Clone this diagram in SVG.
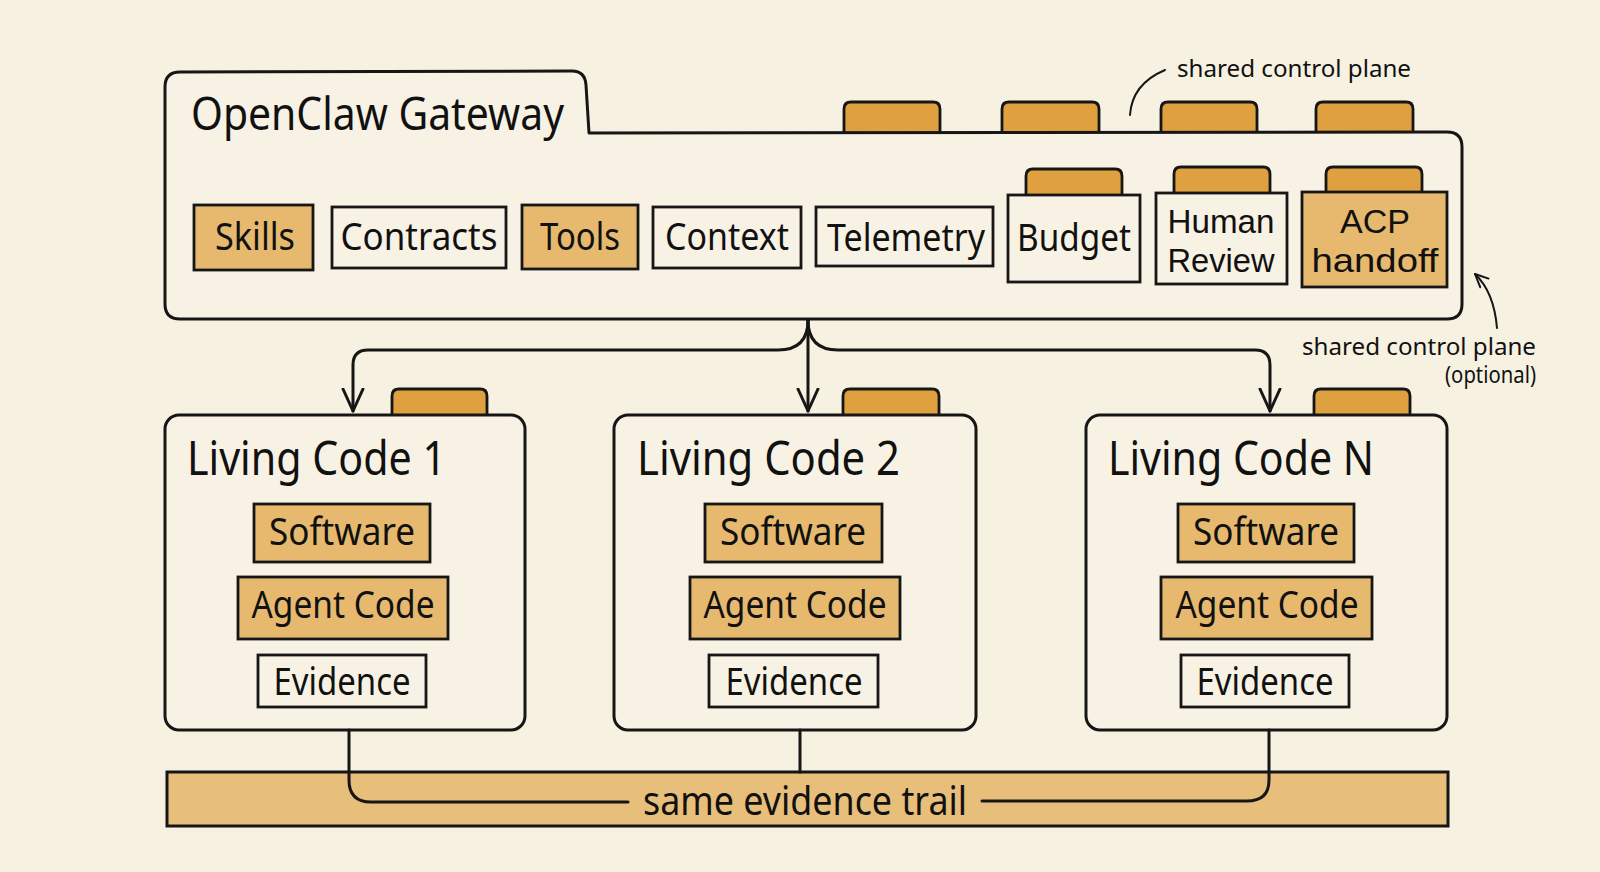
<svg xmlns="http://www.w3.org/2000/svg" width="1600" height="872" viewBox="0 0 1600 872">
<style>
.bg{fill:#f7f1e1}
.box{fill:#f8f2e4;stroke:#161616;stroke-width:3;stroke-linejoin:round}
.ibox{fill:#f8f2e4;stroke:#161616;stroke-width:2.8}
.obox{fill:#e6b96e;stroke:#161616;stroke-width:2.8}
.tab{fill:#dfa13f;stroke:#161616;stroke-width:2.8;stroke-linejoin:round}
.bar{fill:#e8bf7a;stroke:#161616;stroke-width:3}
.ln{fill:none;stroke:#161616;stroke-width:3;stroke-linecap:round;stroke-linejoin:round}
.thin{fill:none;stroke:#161616;stroke-width:2;stroke-linecap:round}
text{font-family:"Noto Sans","Open Sans",sans-serif;fill:#111}
.title{font-size:46px}
.lct{font-size:47px}
.it{font-size:38px;text-anchor:middle}
.it2{font-family:"Liberation Sans",Arial,sans-serif;font-size:34px;text-anchor:middle}
.note{font-size:23px}
</style>
<defs>
<marker id="arr" markerUnits="userSpaceOnUse" markerWidth="26" markerHeight="26" viewBox="0 0 26 26" refX="23" refY="13" orient="auto">
<path d="M1,3 L23,13 L1,23" fill="none" stroke="#161616" stroke-width="3" stroke-linecap="round" stroke-linejoin="round"/>
</marker>
<marker id="sarr" markerUnits="userSpaceOnUse" markerWidth="16" markerHeight="16" viewBox="0 0 16 16" refX="14" refY="8" orient="auto">
<path d="M1,2 L14,8 L1,14" fill="none" stroke="#161616" stroke-width="2" stroke-linecap="round" stroke-linejoin="round"/>
</marker>
</defs>
<rect class="bg" x="0" y="0" width="1600" height="872"/>

<g id="gateway">
<path class="tab" d="M844,133 L844,109 Q844,102 851,102 L933,102 Q940,102 940,109 L940,133"/>
<path class="tab" d="M1002,133 L1002,109 Q1002,102 1009,102 L1092,102 Q1099,102 1099,109 L1099,133"/>
<path class="tab" d="M1161,133 L1161,109 Q1161,102 1168,102 L1250,102 Q1257,102 1257,109 L1257,133"/>
<path class="tab" d="M1316,133 L1316,109 Q1316,102 1323,102 L1406,102 Q1413,102 1413,109 L1413,133"/>
<path class="box" d="M165,87 Q165,72 180,72 L572,71 Q585,71 586,85 L589,133 L1447,132 Q1462,132 1462,147 L1462,304 Q1462,319 1447,319 L180,319 Q165,319 165,304 Z"/>
<text class="title" x="191" y="130" textLength="373" lengthAdjust="spacingAndGlyphs">OpenClaw Gateway</text>
</g>

<g id="skills">
<rect class="obox" x="194" y="205" width="119" height="65"/>
<text class="it" x="255" y="250" textLength="80" lengthAdjust="spacingAndGlyphs">Skills</text>
</g>
<g id="contracts">
<rect class="ibox" x="332" y="207" width="174" height="61"/>
<text class="it" x="419" y="250" textLength="157" lengthAdjust="spacingAndGlyphs">Contracts</text>
</g>
<g id="tools">
<rect class="obox" x="522" y="205" width="116" height="64"/>
<text class="it" x="580" y="250" textLength="80" lengthAdjust="spacingAndGlyphs">Tools</text>
</g>
<g id="context">
<rect class="ibox" x="653" y="207" width="148" height="61"/>
<text class="it" x="727" y="250" textLength="124" lengthAdjust="spacingAndGlyphs">Context</text>
</g>
<g id="telemetry">
<rect class="ibox" x="816" y="207" width="177" height="59"/>
<text class="it" x="906" y="251" textLength="158" lengthAdjust="spacingAndGlyphs">Telemetry</text>
</g>
<g id="budget">
<path class="tab" d="M1026,196 L1026,176 Q1026,169 1033,169 L1115,169 Q1122,169 1122,176 L1122,196"/>
<rect class="ibox" x="1008" y="195" width="132" height="87"/>
<text class="it" x="1074" y="251" textLength="114" lengthAdjust="spacingAndGlyphs">Budget</text>
</g>
<g id="human-review">
<path class="tab" d="M1174,194 L1174,174 Q1174,167 1181,167 L1263,167 Q1270,167 1270,174 L1270,194"/>
<rect class="ibox" x="1156" y="193" width="131" height="91"/>
<text class="it2"><tspan x="1221" y="233" textLength="107" lengthAdjust="spacingAndGlyphs">Human</tspan><tspan x="1221" y="272" textLength="107" lengthAdjust="spacingAndGlyphs">Review</tspan></text>
</g>
<g id="acp-handoff">
<path class="tab" d="M1326,193 L1326,174 Q1326,167 1333,167 L1415,167 Q1422,167 1422,174 L1422,193"/>
<rect class="obox" x="1302" y="192" width="145" height="95"/>
<text class="it2"><tspan x="1375" y="233" textLength="70" lengthAdjust="spacingAndGlyphs">ACP</tspan><tspan x="1375" y="272" textLength="127" lengthAdjust="spacingAndGlyphs">handoff</tspan></text>
</g>

<g id="notes">
<path class="thin" d="M1130,115 Q1132,84 1165,70"/>
<text class="note" x="1177" y="77" textLength="234" lengthAdjust="spacingAndGlyphs">shared control plane</text>
<path class="thin" d="M1497,328 Q1494,292 1475,274" marker-end="url(#sarr)"/>
<text class="note" x="1302" y="355" textLength="234" lengthAdjust="spacingAndGlyphs">shared control plane</text>
<text class="note" x="1445" y="383" font-size="21" textLength="91" lengthAdjust="spacingAndGlyphs">(optional)</text>
</g>

<g id="living-code-1">
<path class="tab" d="M392,416 L392,396 Q392,389 399,389 L480,389 Q487,389 487,396 L487,416"/>
<rect class="box" x="165" y="415" width="360" height="315" rx="14"/>
<text class="lct" x="187" y="475" textLength="259" lengthAdjust="spacingAndGlyphs">Living Code 1</text>
<rect class="obox" x="254" y="504" width="176" height="58"/>
<text class="it" x="342" y="545" textLength="146" lengthAdjust="spacingAndGlyphs">Software</text>
<rect class="obox" x="238" y="577" width="210" height="62"/>
<text class="it" x="343" y="618" textLength="183" lengthAdjust="spacingAndGlyphs">Agent Code</text>
<rect class="ibox" x="258" y="655" width="168" height="52"/>
<text class="it" x="342" y="695" textLength="137" lengthAdjust="spacingAndGlyphs">Evidence</text>
</g>

<g id="living-code-2" transform="translate(450,0)">
<path class="tab" d="M393,416 L393,396 Q393,389 400,389 L482,389 Q489,389 489,396 L489,416"/>
<rect class="box" x="164" y="415" width="362" height="315" rx="14"/>
<text class="lct" x="187" y="475" textLength="263" lengthAdjust="spacingAndGlyphs">Living Code 2</text>
<rect class="obox" x="255" y="504" width="177" height="58"/>
<text class="it" x="343" y="545" textLength="146" lengthAdjust="spacingAndGlyphs">Software</text>
<rect class="obox" x="240" y="577" width="210" height="62"/>
<text class="it" x="345" y="618" textLength="183" lengthAdjust="spacingAndGlyphs">Agent Code</text>
<rect class="ibox" x="259" y="655" width="169" height="52"/>
<text class="it" x="344" y="695" textLength="137" lengthAdjust="spacingAndGlyphs">Evidence</text>
</g>

<g id="living-code-n" transform="translate(921,0)">
<path class="tab" d="M393,416 L393,396 Q393,389 400,389 L482,389 Q489,389 489,396 L489,416"/>
<rect class="box" x="165" y="415" width="361" height="315" rx="14"/>
<text class="lct" x="187" y="475" textLength="266" lengthAdjust="spacingAndGlyphs">Living Code N</text>
<rect class="obox" x="257" y="504" width="176" height="58"/>
<text class="it" x="345" y="545" textLength="146" lengthAdjust="spacingAndGlyphs">Software</text>
<rect class="obox" x="240" y="577" width="211" height="62"/>
<text class="it" x="346" y="618" textLength="183" lengthAdjust="spacingAndGlyphs">Agent Code</text>
<rect class="ibox" x="260" y="655" width="168" height="52"/>
<text class="it" x="344" y="695" textLength="137" lengthAdjust="spacingAndGlyphs">Evidence</text>
</g>

<g id="evidence-trail">
<rect class="bar" x="167" y="772" width="1281" height="54"/>
<text x="805" y="815" font-size="40" text-anchor="middle" textLength="324" lengthAdjust="spacingAndGlyphs">same evidence trail</text>
</g>

<g id="connectors">
<path class="ln" d="M808,320 Q808,350 778,350 L368,350 Q353,350 353,365 L353,411" marker-end="url(#arr)"/>
<path class="ln" d="M808,320 L808,411" marker-end="url(#arr)"/>
<path class="ln" d="M808,320 Q808,350 838,350 L1255,350 Q1270,350 1270,365 L1270,411" marker-end="url(#arr)"/>
<path class="ln" d="M349,730 L349,780 Q349,802 371,802 L628,802"/>
<path class="ln" d="M800,730 L800,772"/>
<path class="ln" d="M1269,730 L1269,780 Q1269,801 1247,801 L982,801"/>
</g>
</svg>
